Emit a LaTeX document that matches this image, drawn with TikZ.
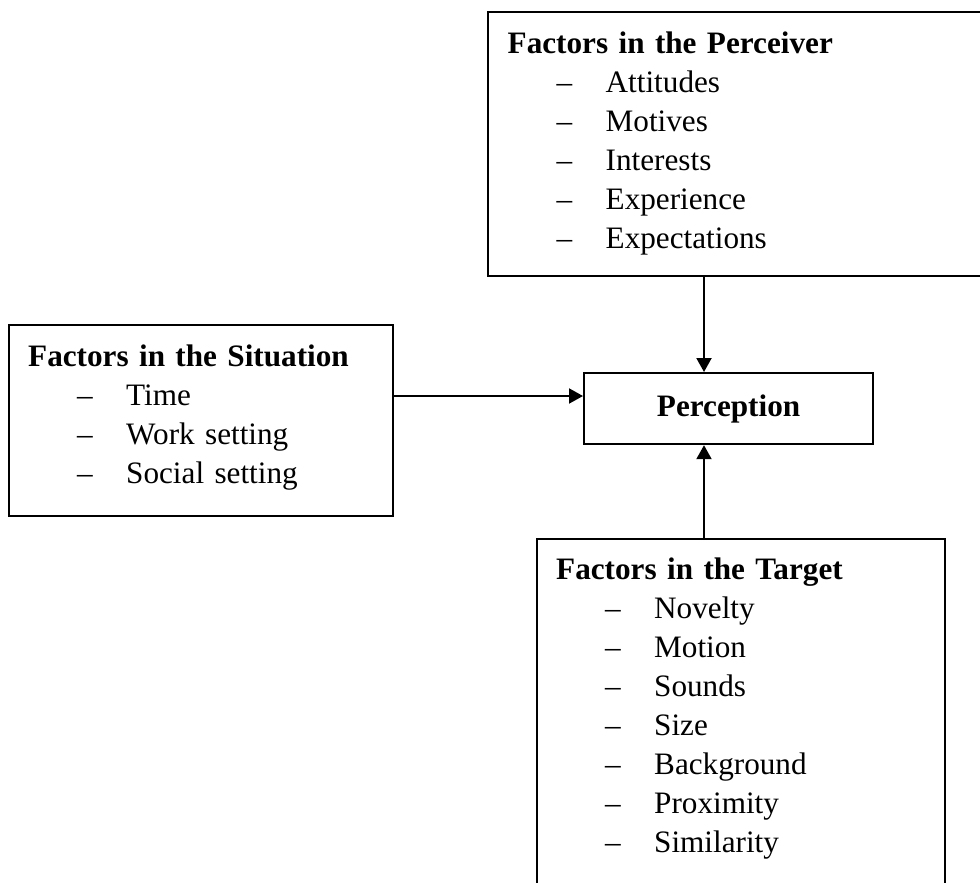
\documentclass[tikz,border=0pt]{standalone}
\usepackage{fontspec}
\setmainfont{Liberation Serif}
\usetikzlibrary{arrows.meta,positioning}
\setlength{\parindent}{0pt}
\newcommand{\factor}[1]{\strut\hspace*{49pt}\makebox[49pt][l]{\textendash}#1}

\begin{document}
\begin{tikzpicture}[x=1pt,y=-1pt,
    box/.style={draw,line width=2.2pt,anchor=north west,inner sep=0pt},
    list/.style={inner sep=0pt,text width=440pt,align=left,font=\fontsize{31.2}{39}\selectfont},
    arr/.style={line width=2pt,-{Triangle[length=14pt,width=15pt]}}]
  \useasboundingbox (0,0) rectangle (980,883);
  \clip (0,0) rectangle (980,883);
  % Boxes
  \node[box,minimum width=503pt,minimum height=264pt] (perceiver) at (487,11) {};
  \node[box,minimum width=384.5pt,minimum height=191pt] (situation) at (7.5,324) {};
  \node[box,minimum width=408pt,minimum height=400pt] (target) at (536,538) {};
  \node[box,minimum width=289pt,minimum height=71pt,font=\fontsize{31.2}{39}\selectfont\bfseries] (perception) at (583,372) {Perception};
  % Lists of factors
  \node[list,below right=14.7pt and 20.5pt of perceiver.north west] (perceiverlist) {\strut\textbf{Factors in the Perceiver}\\
    \factor{Attitudes}\\ \factor{Motives}\\ \factor{Interests}\\ \factor{Experience}\\ \factor{Expectations}};
  \node[list,below right=14.7pt and 20.5pt of situation.north west] (situationlist) {\strut\textbf{Factors in the Situation}\\
    \factor{Time}\\ \factor{Work setting}\\ \factor{Social setting}};
  \node[list,below right=13.7pt and 20pt of target.north west] (targetlist) {\strut\textbf{Factors in the Target}\\
    \factor{Novelty}\\ \factor{Motion}\\ \factor{Sounds}\\ \factor{Size}\\ \factor{Background}\\ \factor{Proximity}\\ \factor{Similarity}};
  % Arrows
  \coordinate (ax) at (704,0);
  \coordinate (ay) at (0,396);
  \draw[arr] (perceiver.south -| ax) -- (perception.north -| ax);
  \draw[arr] (target.north -| ax) -- (perception.south -| ax);
  \draw[arr] (situation.east |- ay) -- (perception.west |- ay);
\end{tikzpicture}
\end{document}
